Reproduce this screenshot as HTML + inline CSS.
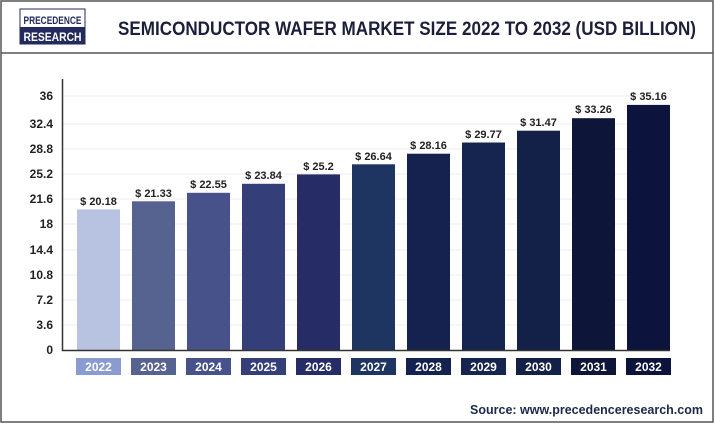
<!DOCTYPE html><html><head><style>
body{margin:0;background:#fff;}
</style></head><body>
<svg width="715" height="425" xmlns="http://www.w3.org/2000/svg" style="display:block">
<rect x="1" y="1" width="712" height="421" fill="#fff" stroke="#555" stroke-width="1.5"/>
<line x1="1" y1="53" x2="713" y2="53" stroke="#555" stroke-width="1.5"/>
<rect x="20" y="9" width="65" height="35" fill="#fff" stroke="#232a5c" stroke-width="1"/>
<rect x="20" y="27" width="65" height="17" fill="#232a5c"/>
<text x="52.5" y="24" text-anchor="middle" font-family="Liberation Sans, sans-serif" font-weight="bold" font-size="11" fill="#232a5c" textLength="58" lengthAdjust="spacingAndGlyphs">PRECEDENCE</text>
<text x="52.5" y="41" text-anchor="middle" font-family="Liberation Sans, sans-serif" font-weight="bold" font-size="12" fill="#fff" textLength="58" lengthAdjust="spacingAndGlyphs">RESEARCH</text>
<text x="118" y="35" font-family="Liberation Sans, sans-serif" font-weight="bold" font-size="19" fill="#1c1f3a" textLength="578" lengthAdjust="spacingAndGlyphs">SEMICONDUCTOR WAFER MARKET SIZE 2022 TO 2032 (USD BILLION)</text>
<g font-family="Liberation Sans, sans-serif" font-weight="bold" font-size="12" fill="#222" text-anchor="end">
<text x="53" y="354">0</text><text x="53" y="329">3.6</text><text x="53" y="304">7.2</text><text x="53" y="279">10.8</text><text x="53" y="254">14.4</text><text x="53" y="228">18</text><text x="53" y="203">21.6</text><text x="53" y="178">25.2</text><text x="53" y="153">28.8</text><text x="53" y="128">32.4</text><text x="53" y="100">36</text>
</g>
<g stroke="#ececec"><line x1="63" x2="668" y1="325" y2="325"/><line x1="63" x2="668" y1="300" y2="300"/><line x1="63" x2="668" y1="275" y2="275"/><line x1="63" x2="668" y1="250" y2="250"/><line x1="63" x2="668" y1="224" y2="224"/><line x1="63" x2="668" y1="199" y2="199"/><line x1="63" x2="668" y1="174" y2="174"/><line x1="63" x2="668" y1="149" y2="149"/><line x1="63" x2="668" y1="124" y2="124"/><line x1="63" x2="668" y1="96" y2="96"/></g>
<g>
<rect x="77" y="209.4" width="43" height="140.6" fill="#b8c3e2"/>
<rect x="132" y="201.3" width="43" height="148.7" fill="#56628f"/>
<rect x="187" y="192.8" width="43" height="157.2" fill="#47518a"/>
<rect x="242" y="183.8" width="43" height="166.2" fill="#343f7a"/>
<rect x="297" y="174.4" width="43" height="175.6" fill="#262d66"/>
<rect x="352" y="164.3" width="43" height="185.7" fill="#1e3561"/>
<rect x="407" y="153.7" width="43" height="196.3" fill="#15214f"/>
<rect x="462" y="142.5" width="43" height="207.5" fill="#152550"/>
<rect x="517" y="130.7" width="43" height="219.3" fill="#132048"/>
<rect x="572" y="118.2" width="43" height="231.8" fill="#0d1638"/>
<rect x="627" y="104.9" width="43" height="245.1" fill="#0c133d"/>
</g>
<g font-family="Liberation Sans, sans-serif" font-weight="bold" font-size="11" fill="#222" text-anchor="middle">
<text x="98.5" y="205">$ 20.18</text>
<text x="153.5" y="197">$ 21.33</text>
<text x="208.5" y="188">$ 22.55</text>
<text x="263.5" y="179">$ 23.84</text>
<text x="318.5" y="170">$ 25.2</text>
<text x="373.5" y="160">$ 26.64</text>
<text x="428.5" y="149">$ 28.16</text>
<text x="483.5" y="138">$ 29.77</text>
<text x="538.5" y="126">$ 31.47</text>
<text x="593.5" y="113">$ 33.26</text>
<text x="648.5" y="100">$ 35.16</text>
</g>
<g>
<rect x="76" y="358" width="45" height="17" fill="#8a9bd0"/>
<rect x="131" y="358" width="45" height="17" fill="#56628f"/>
<rect x="186" y="358" width="45" height="17" fill="#47518a"/>
<rect x="241" y="358" width="45" height="17" fill="#343f7a"/>
<rect x="296" y="358" width="45" height="17" fill="#262d66"/>
<rect x="351" y="358" width="45" height="17" fill="#1e3561"/>
<rect x="406" y="358" width="45" height="17" fill="#15214f"/>
<rect x="461" y="358" width="45" height="17" fill="#152550"/>
<rect x="516" y="358" width="45" height="17" fill="#132048"/>
<rect x="571" y="358" width="45" height="17" fill="#0d1638"/>
<rect x="626" y="358" width="45" height="17" fill="#0c133d"/>
</g>
<g font-family="Liberation Sans, sans-serif" font-weight="bold" font-size="12" fill="#fff" text-anchor="middle">
<text x="98.5" y="371">2022</text><text x="153.5" y="371">2023</text><text x="208.5" y="371">2024</text><text x="263.5" y="371">2025</text><text x="318.5" y="371">2026</text><text x="373.5" y="371">2027</text><text x="428.5" y="371">2028</text><text x="483.5" y="371">2029</text><text x="538.5" y="371">2030</text><text x="593.5" y="371">2031</text><text x="648.5" y="371">2032</text>
</g>
<line x1="62.5" y1="79" x2="62.5" y2="351" stroke="#333" stroke-width="1.5"/>
<line x1="62" y1="350.5" x2="670" y2="350.5" stroke="#333" stroke-width="1.5"/>
<text x="703" y="414" text-anchor="end" font-family="Liberation Sans, sans-serif" font-weight="bold" font-size="12.5" fill="#1c2a4a">Source: www.precedenceresearch.com</text>
</svg>
</body></html>
